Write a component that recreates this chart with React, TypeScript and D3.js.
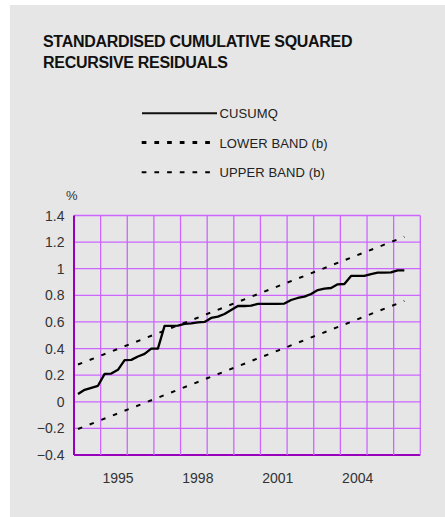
import React from "react";
import * as d3 from "d3";

// ---- data ----
const startYear = 1994.15; // first quarterly observation (approx.)
const quarterStep = 0.25;
const cusumq = [
  0.058, 0.09, 0.105, 0.12, 0.21, 0.212, 0.24, 0.313, 0.315, 0.34,
  0.36, 0.4, 0.4, 0.57, 0.57, 0.572, 0.585, 0.59, 0.597, 0.6,
  0.63, 0.64, 0.66, 0.69, 0.72, 0.72, 0.722, 0.736, 0.736, 0.736,
  0.736, 0.738, 0.765, 0.78, 0.79, 0.81, 0.84, 0.85, 0.855, 0.883,
  0.885, 0.946, 0.946, 0.946, 0.96, 0.97, 0.97, 0.972, 0.988, 0.988,
];
const lowerBand = [-0.205, 0.758]; // start, end
const upperBand = [0.28, 1.24]; // start, end
const yTicks = [-0.4, -0.2, 0, 0.2, 0.4, 0.6, 0.8, 1, 1.2, 1.4];
const yearLabels = [1995, 1998, 2001, 2004];
const gridYears = d3.range(1994, 2008);
const titleLines = ["STANDARDISED CUMULATIVE SQUARED", "RECURSIVE RESIDUALS"];
const legendItems = ["CUSUMQ", "LOWER BAND (b)", "UPPER BAND (b)"];

const W = 445;
const H = 517;
const FONT = "'Liberation Sans', Arial, Helvetica, sans-serif";

export default function App() {
  const x = d3.scaleLinear().domain([1994, 2007]).range([74, 420.3]);
  const y = d3.scaleLinear().domain([-0.4, 1.4]).range([455, 215.5]);

  const pts: [number, number][] = cusumq.map((v, i) => [startYear + i * quarterStep, v]);
  const endYear = startYear + (cusumq.length - 1) * quarterStep;
  const line = d3
    .line<[number, number]>()
    .x((d) => x(d[0]))
    .y((d) => y(d[1]));

  const lowerPts: [number, number][] = [
    [startYear, lowerBand[0]],
    [endYear, lowerBand[1]],
  ];
  const upperPts: [number, number][] = [
    [startYear, upperBand[0]],
    [endYear, upperBand[1]],
  ];

  const gridColor = "#cc66ff";
  const axisColor = "#9900bb";

  return (
    <svg
      width={W}
      height={H}
      style={{ position: "absolute", left: 0, top: 0, display: "block" }}
    >
      <rect x={10} y={5} width={W - 10} height={H - 5} fill="#e6e6e6" />
      {/* title */}
      <text
        x={43}
        fontFamily={FONT}
        fontWeight="bold"
        fontSize={16}
        fill="#111"
        style={{ letterSpacing: "-0.3px" }}
      >
        {titleLines.map((t, i) => (
          <tspan key={i} x={43} y={47 + i * 21}>
            {t}
          </tspan>
        ))}
      </text>

      {/* legend */}
      <g fontFamily={FONT} fontSize={13} fill="#222">
        <line x1={142} x2={217} y1={113.3} y2={113.3} stroke="#111" strokeWidth={2} />
        <line
          x1={141.7}
          x2={217}
          y1={142.5}
          y2={142.5}
          stroke="#000"
          strokeWidth={3}
          strokeDasharray="4.7,8"
        />
        <line
          x1={141.7}
          x2={217}
          y1={172.3}
          y2={172.3}
          stroke="#000"
          strokeWidth={2}
          strokeDasharray="4.7,8"
        />
        {legendItems.map((t, i) => (
          <text key={t} x={219.5} y={[118, 147.5, 177][i]} style={{ letterSpacing: "0.1px" }}>
            {t}
          </text>
        ))}
      </g>

      {/* % label */}
      <text x={66} y={200} fontFamily={FONT} fontSize={13} fill="#333">
        %
      </text>

      {/* grid */}
      <g>
        {yTicks.map((t) => (
          <line
            key={"h" + t}
            x1={x(1994)}
            x2={x(2007)}
            y1={y(t)}
            y2={y(t)}
            stroke={t === -0.4 ? axisColor : gridColor}
            strokeWidth={t === -0.4 ? 2 : 1.3}
          />
        ))}
        {gridYears.map((yr) => (
          <line
            key={"v" + yr}
            x1={x(yr)}
            x2={x(yr)}
            y1={y(1.4)}
            y2={y(-0.4)}
            stroke={yr === 1994 ? axisColor : gridColor}
            strokeWidth={yr === 1994 ? 2 : 1.3}
          />
        ))}
      </g>

      {/* y tick labels */}
      <g fontFamily={FONT} fontSize={14} fill="#333" textAnchor="end">
        {yTicks.map((t) => (
          <text key={"yl" + t} x={64.5} y={y(t) + 5}>
            {d3.format("")(Number(t.toFixed(1)))}
          </text>
        ))}
      </g>

      {/* x labels */}
      <g fontFamily={FONT} fontSize={14} fill="#333" textAnchor="middle">
        {yearLabels.map((yr) => (
          <text key={"xl" + yr} x={x(yr + 0.65)} y={483}>
            {yr}
          </text>
        ))}
      </g>

      {/* bands */}
      <path
        d={line(lowerPts) || ""}
        fill="none"
        stroke="#000"
        strokeWidth={2}
        strokeDasharray="4.5,8"
      />
      <path
        d={line(upperPts) || ""}
        fill="none"
        stroke="#000"
        strokeWidth={2}
        strokeDasharray="4.5,8"
      />
      {/* CUSUMQ */}
      <path
        d={line(pts) || ""}
        fill="none"
        stroke="#000"
        strokeWidth={2.3}
        strokeLinejoin="round"
      />
    </svg>
  );
}
